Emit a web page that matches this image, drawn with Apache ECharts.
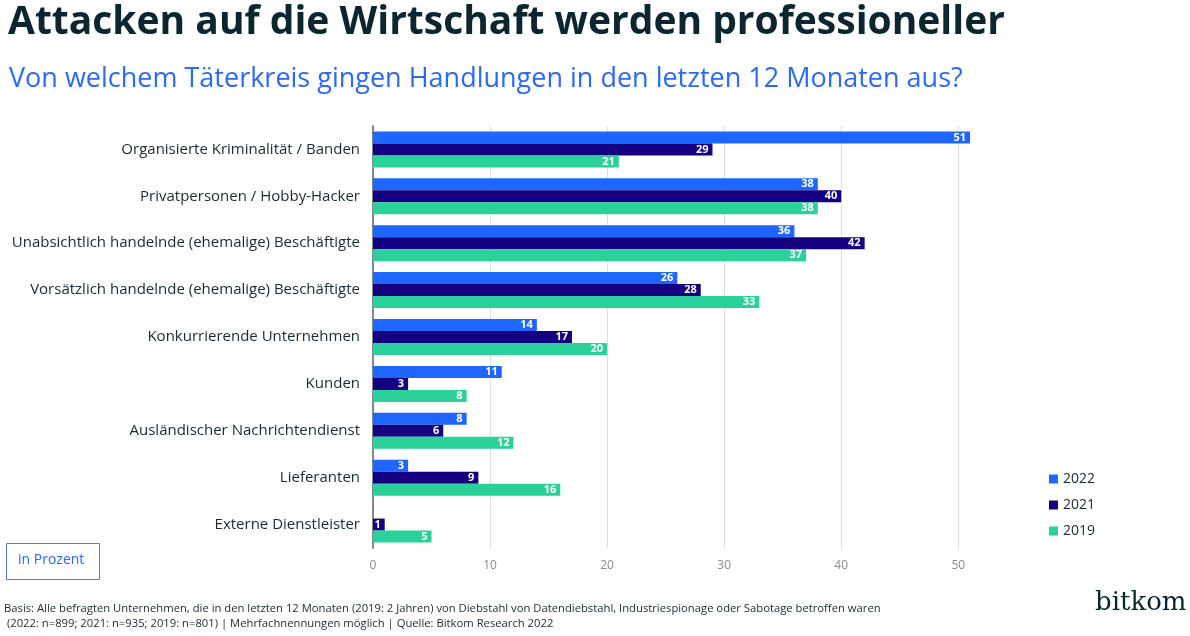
<!DOCTYPE html>
<html><head><meta charset="utf-8">
<script src="https://cdn.jsdelivr.net/npm/echarts@6/dist/echarts.min.js"></script>
<style>html,body{margin:0;padding:0;background:#fff}#c{width:1190px;height:636px}</style>
</head><body><div id="c"></div>
<script>
const categories = [
  "Organisierte Kriminalität / Banden",
  "Privatpersonen / Hobby-Hacker",
  "Unabsichtlich handelnde (ehemalige) Beschäftigte",
  "Vorsätzlich handelnde (ehemalige) Beschäftigte",
  "Konkurrierende Unternehmen",
  "Kunden",
  "Ausländischer Nachrichtendienst",
  "Lieferanten",
  "Externe Dienstleister"
];
const values2022 = [51, 38, 36, 26, 14, 11, 8, 3, null];
const values2021 = [29, 40, 42, 28, 17, 3, 6, 9, 1];
const values2019 = [21, 38, 37, 33, 20, 8, 12, 16, 5];
const seriesNames = ["2022", "2021", "2019"];
const xTicks = [0, 10, 20, 30, 40, 50];

const colors = ["#1f66ff", "#140080", "#2bd19a"];
const font = "'Open Sans', 'Noto Sans', sans-serif";
const chart = echarts.init(document.getElementById('c'));
const mk = (name, data, i) => ({
  name, type: 'bar', data, barWidth: 12, barGap: '0%', barCategoryGap: '23%',
  itemStyle: { color: colors[i] },
  label: { show: true, position: 'insideRight', color: '#fff', fontWeight: 'bold', fontSize: 11, fontFamily: font, distance: 4,
    formatter: p => p.value == null ? '' : p.value }
});
chart.setOption({
  animation: false,
  title: [
    { text: "Attacken auf die Wirtschaft werden professioneller", left: 3, top: -2,
      textStyle: { fontFamily: font, fontWeight: 'bold', fontSize: 39, color: '#0b2630' } },
    { text: "Von welchem Täterkreis gingen Handlungen in den letzten 12 Monaten aus?", left: 4, top: 61,
      textStyle: { fontFamily: font, fontWeight: 'normal', fontSize: 27, color: '#2a6af5' } }
  ],
  legend: {
    orient: 'vertical', left: 1044, top: 465, itemGap: 8, itemWidth: 9, itemHeight: 9, icon: 'rect',
    data: seriesNames, textStyle: { fontFamily: font, fontSize: 14, color: '#1a2a30', lineHeight: 18 }
  },
  grid: { left: 373, top: 126, width: 597, height: 422, containLabel: false },
  xAxis: {
    type: 'value', min: 0, max: 51, interval: 10,
    axisLine: { show: false }, axisTick: { show: false },
    axisLabel: { color: '#8a8a8a', fontFamily: font, fontSize: 12, margin: 12, showMaxLabel: false },
    splitLine: { show: true, showMaxLine: false, lineStyle: { color: '#dedede' } }
  },
  yAxis: {
    type: 'category', data: categories, inverse: true,
    axisLine: { show: true, lineStyle: { color: '#7d8b8b', width: 2 } }, axisTick: { show: false },
    axisLabel: { color: '#1a2a30', fontFamily: font, fontSize: 15, margin: 13, padding: [3, 0, 0, 0] }
  },
  series: [mk(seriesNames[0], values2022, 0), mk(seriesNames[1], values2021, 1), mk(seriesNames[2], values2019, 2)],
  graphic: [
    { type: 'rect', left: 6, top: 543, shape: { width: 93, height: 36 }, style: { fill: '#fff', stroke: '#4a7cf0', lineWidth: 1 } },
    { type: 'text', left: 18, top: 553, style: { text: 'in Prozent', font: "14px 'Open Sans', sans-serif", fill: '#2a6af5' } },
    { type: 'text', left: 4, top: 603, style: { text: 'Basis: Alle befragten Unternehmen, die in den letzten 12 Monaten (2019: 2 Jahren) von Diebstahl von Datendiebstahl, Industriespionage oder Sabotage betroffen waren', font: "11.25px 'Open Sans', sans-serif", fill: '#1a2a30' } },
    { type: 'text', left: 4, top: 618, style: { text: ' (2022: n=899; 2021: n=935; 2019: n=801) | Mehrfachnennungen möglich | Quelle: Bitkom Research 2022', font: "11.25px 'Open Sans', sans-serif", fill: '#1a2a30' } },
    { type: 'text', left: 1095, top: 590, style: { text: 'bitkom', font: "26px 'DejaVu Serif', serif", fill: '#0b2630' } }
  ]
});
</script></body></html>
